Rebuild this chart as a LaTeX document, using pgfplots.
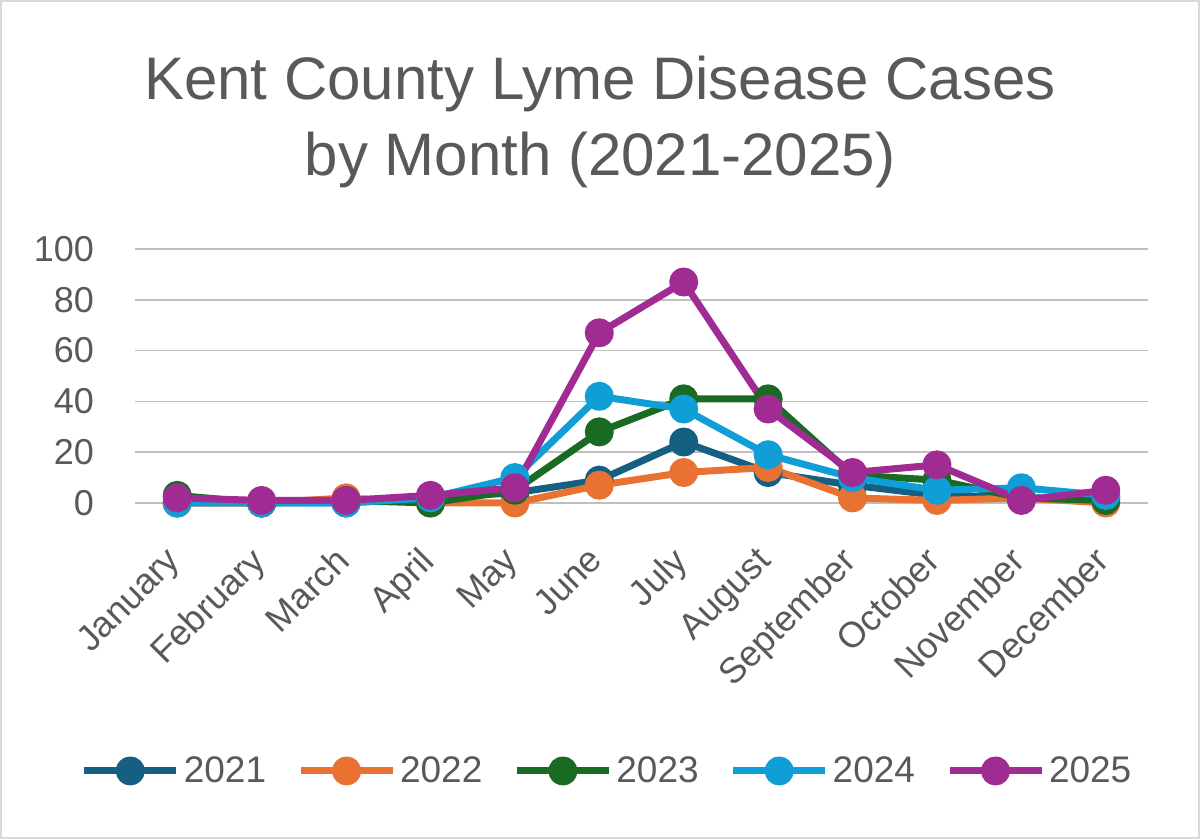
\documentclass[border=0pt]{standalone}
\usepackage{pgfplots}
\pgfplotsset{compat=1.18}
\usepackage{fontspec}
\setmainfont{Liberation Sans}

\definecolor{c2021}{HTML}{156082}
\definecolor{c2022}{HTML}{E97132}
\definecolor{c2023}{HTML}{196B24}
\definecolor{c2024}{HTML}{0F9ED5}
\definecolor{c2025}{HTML}{A02B93}
\definecolor{txt}{HTML}{595959}
\definecolor{grid}{HTML}{D9D9D9}

\begin{document}
\begin{tikzpicture}[x=1pt,y=1pt]
% frame of the chart area
\draw[grid,line width=0.8pt] (0.4,0.4) rectangle (599.6,419.1);
\path[use as bounding box] (0,0) rectangle (600,419.5);

% title
\node[txt,font=\fontsize{30}{36}\selectfont] at (300,377.5) {Kent County Lyme Disease Cases};
\node[txt,font=\fontsize{30}{36}\selectfont] at (300,339.5) {by Month (2021-2025)};

\begin{axis}[
  at={(67.5pt,168pt)}, anchor=south west,
  scale only axis, width=506.5pt, height=127pt,
  xmin=-0.5, xmax=11.5, ymin=0, ymax=100,
  clip=false,
  axis line style={draw=none},
  major tick length=0pt,
  xmajorgrids=false, ymajorgrids=true,
  major grid style={grid,line width=0.8pt},
  ytick={0,20,...,100},
  xtick={0,...,11},
  xticklabels={January,February,March,April,May,June,July,August,September,October,November,December},
  /pgf/number format/assume math mode=true,
  yticklabel style={txt,font=\fontsize{18}{20}\selectfont, xshift=-17pt},
  xticklabel style={txt,font=\fontsize{18}{20}\selectfont, xshift=-6.5pt, yshift=-16pt, rotate=45, anchor=north east},
  every axis plot/.append style={line width=3.5pt, mark=*, mark size=5.5pt, line join=round},
  legend columns=5,
  legend style={at={(0.467,-1.055)}, anchor=center, draw=none, fill=none,
    font=\fontsize{18.5}{21}\selectfont, text=txt,
    /tikz/every even column/.append style={column sep=13.5pt}},
  legend image code/.code={
    \draw[mark repeat=2,mark phase=2] plot coordinates {(0pt,0pt) (23pt,0pt) (46pt,0pt)};
  },
]
\addplot[c2021] coordinates {(0,0) (1,0) (2,0) (3,2) (4,4) (5,9) (6,24) (7,12) (8,7) (9,3) (10,2) (11,2)};
\addlegendentry{2021}
\addplot[c2022] coordinates {(0,0) (1,0) (2,2) (3,0) (4,0) (5,7) (6,12) (7,14) (8,2) (9,1) (10,2) (11,0)};
\addlegendentry{2022}
\addplot[c2023] coordinates {(0,3) (1,0) (2,1) (3,0) (4,5) (5,28) (6,41) (7,41) (8,11) (9,9) (10,2) (11,1)};
\addlegendentry{2023}
\addplot[c2024] coordinates {(0,0) (1,0) (2,0) (3,2) (4,10) (5,42) (6,37) (7,19) (8,10) (9,5) (10,6) (11,3)};
\addlegendentry{2024}
\addplot[c2025] coordinates {(0,2) (1,1) (2,1) (3,3) (4,6) (5,67) (6,87) (7,37) (8,12) (9,15) (10,1) (11,5)};
\addlegendentry{2025}
\end{axis}
\end{tikzpicture}
\end{document}
